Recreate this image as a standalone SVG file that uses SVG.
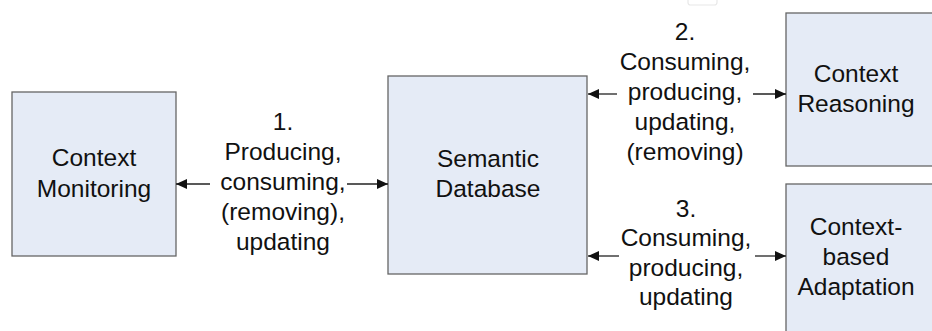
<svg xmlns="http://www.w3.org/2000/svg" width="932" height="331" viewBox="0 0 932 331">
<style>
.box{fill:#E5EBF6;stroke:#666;stroke-width:1.3}
text{font-family:"Liberation Sans",Arial,sans-serif;font-size:24.5px;fill:#111;text-anchor:middle}
.ln{stroke:#222;stroke-width:1.3;fill:none}
</style>
<defs>
<marker id="ah" viewBox="0 0 11 11" refX="11" refY="5.5" markerWidth="11" markerHeight="11" markerUnits="userSpaceOnUse" orient="auto">
<path d="M0,0.5 L11,5.5 L0,10.5 Z" fill="#111"/>
</marker>
</defs>
<rect x="688" y="-5" width="29" height="10" rx="2.5" fill="#fff" stroke="#e8e8e8" stroke-width="1.2"/>
<g id="context-monitoring">
<rect class="box" x="12" y="92" width="164" height="164"/>
<text x="94" y="166">Context</text>
<text x="94" y="197">Monitoring</text>
</g>
<g id="semantic-database">
<rect class="box" x="388" y="76" width="199" height="198"/>
<text x="488" y="167">Semantic</text>
<text x="488" y="197">Database</text>
</g>
<g id="context-reasoning">
<rect class="box" x="786" y="13" width="150" height="153"/>
<text x="856" y="82">Context</text>
<text x="856" y="112">Reasoning</text>
</g>
<g id="context-adaptation">
<rect class="box" x="786" y="184" width="150" height="160"/>
<text x="856" y="235">Context-</text>
<text x="856" y="265">based</text>
<text x="856" y="295">Adaptation</text>
</g>
<g id="connectors">
<line class="ln" x1="210" y1="184" x2="176" y2="184" marker-end="url(#ah)"/>
<line class="ln" x1="347" y1="184" x2="388" y2="184" marker-end="url(#ah)"/>
<line class="ln" x1="617" y1="94" x2="588" y2="94" marker-end="url(#ah)"/>
<line class="ln" x1="753" y1="94" x2="786" y2="94" marker-end="url(#ah)"/>
<line class="ln" x1="619" y1="256" x2="588" y2="256" marker-end="url(#ah)"/>
<line class="ln" x1="755" y1="256" x2="786" y2="256" marker-end="url(#ah)"/>
</g>
<g id="label-1">
<text x="283" y="130">1.</text>
<text x="283" y="160">Producing,</text>
<text x="283" y="190">consuming,</text>
<text x="283" y="220">(removing),</text>
<text x="283" y="250">updating</text>
</g>
<g id="label-2">
<text x="685" y="40">2.</text>
<text x="685" y="70">Consuming,</text>
<text x="685" y="100">producing,</text>
<text x="685" y="130">updating,</text>
<text x="685" y="160">(removing)</text>
</g>
<g id="label-3">
<text x="686" y="217">3.</text>
<text x="686" y="246">Consuming,</text>
<text x="686" y="276">producing,</text>
<text x="686" y="305">updating</text>
</g>
</svg>
